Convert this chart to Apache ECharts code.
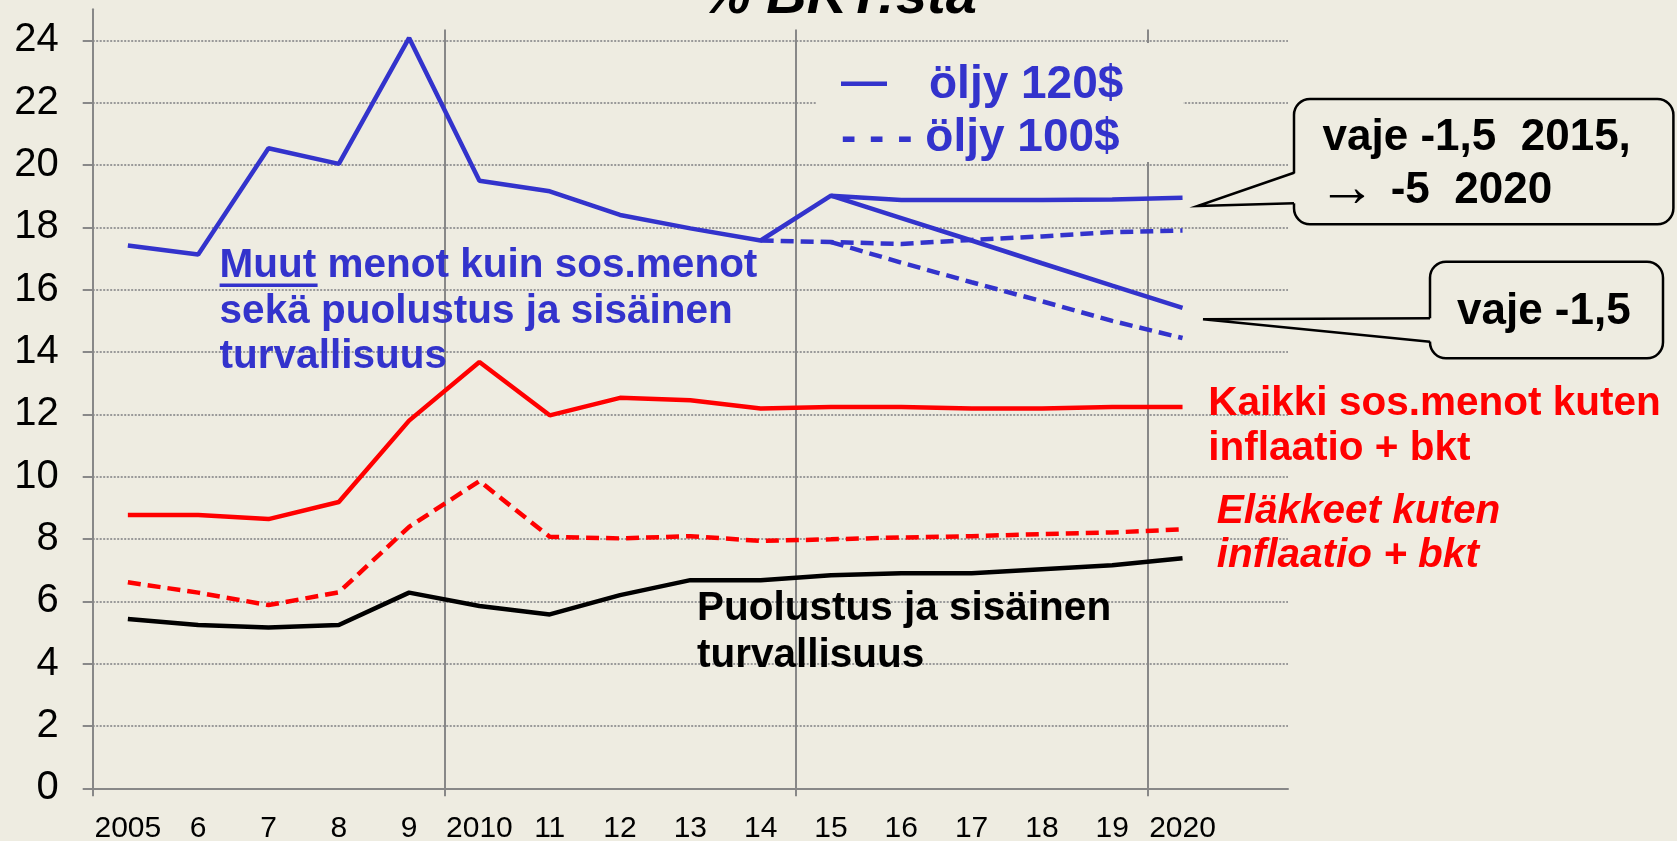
<!DOCTYPE html>
<html>
<head>
<meta charset="utf-8">
<title>% BKT:sta</title>
<script src="https://cdn.jsdelivr.net/npm/echarts@6.0.0/dist/echarts.min.js"></script>
<style>
html, body { margin: 0; padding: 0; background: #EEECE1; }
#main { width: 1677px; height: 841px; }
</style>
</head>
<body>
<div id="main"></div>
<script>
var myChart = echarts.init(document.getElementById('main'));

var BG = '#EEECE1';
var BLUE = '#3333CC';
var RED = '#FF0000';
var GRAY = '#888888';
var FONT = '"Liberation Sans", Arial, sans-serif';

// vuodet (viimeinen sarake tyhjä)
var years = ['2005', '6', '7', '8', '9', '2010', '11', '12', '13', '14', '15', '16', '17', '18', '19', '2020', ''];

// muut menot, öljy 120$ / 100$, kaksi vajeskenaariota
var oil120a = [17.42, 17.13, 20.54, 20.04, 24.08, 19.5, 19.16, 18.4, 17.97, 17.58, 19.02, 18.88, 18.88, 18.88, 18.9, 18.95];
var oil120b = [null, null, null, null, null, null, null, null, null, null, 19.02, 18.3, 17.58, 16.85, 16.13, 15.42];
var oil100a = [null, null, null, null, null, null, null, null, null, 17.58, 17.53, 17.47, 17.6, 17.71, 17.85, 17.9];
var oil100b = [null, null, null, null, null, null, null, null, null, null, 17.53, 16.87, 16.24, 15.63, 15.0, 14.45];

// sos.menot, eläkkeet, puolustus
var sosAll = [8.77, 8.77, 8.64, 9.19, 11.8, 13.68, 11.97, 12.53, 12.45, 12.19, 12.24, 12.24, 12.19, 12.19, 12.24, 12.24];
var pensions = [6.61, 6.28, 5.88, 6.29, 8.39, 9.86, 8.07, 8.02, 8.09, 7.94, 7.99, 8.05, 8.09, 8.16, 8.21, 8.31];
var defence = [5.43, 5.24, 5.16, 5.24, 6.28, 5.85, 5.58, 6.2, 6.68, 6.68, 6.84, 6.9, 6.9, 7.03, 7.16, 7.38];

// pystyviivat sarakerajoilla (2010, 2015, 2020 edessä)
var guides = [5, 10, 15];
var guideTop = 24.35;

function line(name, data, color, dashed) {
    return {
        name: name,
        type: 'line',
        data: data,
        symbol: 'none',
        silent: true,
        z: 10,
        lineStyle: { color: color, width: 4.5, type: dashed ? [13, 7] : 'solid' },
        itemStyle: { color: color }
    };
}

// teksti, y = peruslinja
function txt(str, x, base, size, color, weight, family) {
    return {
        type: 'text',
        z: 40,
        silent: true,
        style: {
            text: str,
            x: x,
            y: base - 0.31 * size,
            font: (weight || 'bold') + ' ' + size + 'px ' + (family || FONT),
            fill: color,
            align: 'left',
            verticalAlign: 'middle',
            textAlign: 'left',
            textVerticalAlign: 'middle'
        }
    };
}

// puhekupla
function callout(x, y, w, h, a1, a2, tipX, tipY) {
    return [
        { type: 'rect', z: 30, silent: true, shape: { x: x, y: y, width: w, height: h, r: 16 },
          style: { fill: BG, stroke: '#000', lineWidth: 2.5 } },
        { type: 'polygon', z: 31, silent: true, shape: { points: [[x + 3, a1], [tipX, tipY], [x + 3, a2]] },
          style: { fill: BG } },
        { type: 'polyline', z: 32, silent: true, shape: { points: [[x, a1], [tipX, tipY], [x, a2]] },
          style: { stroke: '#000', lineWidth: 2.5, fill: null } }
    ];
}

var graphics = [
    // selitteen tausta peittää ruudukon
    { type: 'rect', z: 6, silent: true, shape: { x: 817, y: 43, width: 366, height: 119 }, style: { fill: BG } },
    txt('% BKT:sta', 701, 15, 56, '#000', 'italic bold'),
    txt('\u2014', 841, 98, 46, BLUE),
    txt('öljy 120$', 929, 100, 46, BLUE),
    txt('- - - öljy 100$', 841, 153, 46, BLUE),
    txt('Muut menot kuin sos.menot', 219.6, 278, 40.5, BLUE),
    txt('sekä puolustus ja sisäinen', 219.6, 324, 40.5, BLUE),
    txt('turvallisuus', 219.6, 369.5, 40.5, BLUE),
    { type: 'rect', z: 40, silent: true, shape: { x: 219.6, y: 283.5, width: 98, height: 3.5 }, style: { fill: BLUE } },
    txt('Puolustus ja sisäinen', 697, 621.7, 40.5, '#000'),
    txt('turvallisuus', 697, 668.3, 40.5, '#000'),
    txt('Kaikki sos.menot kuten', 1208.3, 416.7, 40.5, RED),
    txt('inflaatio + bkt', 1208.3, 461.7, 40.5, RED),
    txt('Eläkkeet kuten', 1216.7, 524, 40.5, RED, 'italic bold'),
    txt('inflaatio + bkt', 1216.7, 568.3, 40.5, RED, 'italic bold'),
    txt('vaje -1,5  2015,', 1322.6, 151.7, 44, '#000'),
    txt('\u2192', 1318, 207.8, 58, '#000', 'normal'),
    txt('-5  2020', 1390.7, 204, 44, '#000'),
    txt('vaje -1,5', 1457, 325, 44, '#000')
].concat(
    callout(1294, 99, 379.4, 125.3, 172.7, 203.3, 1197.5, 206),
    callout(1430, 261.7, 233, 96.6, 318.3, 341.7, 1203, 319.3)
);

option = {
    backgroundColor: BG,
    animation: false,
    grid: { left: 92.7, right: 389, top: 9.3, bottom: 52.7, containLabel: false, outerBoundsMode: 'none' },
    xAxis: [{
        type: 'category',
        data: years,
        boundaryGap: true,
        axisLine: { lineStyle: { color: GRAY, width: 2 } },
        axisTick: { show: false },
        axisLabel: { interval: 0, color: '#000', fontSize: 30, fontFamily: FONT, margin: 25 },
        splitLine: { show: false }
    }, {
        type: 'value',
        min: 0,
        max: 17,
        interval: 5,
        position: 'bottom',
        axisLine: { show: false },
        axisLabel: { show: false },
        splitLine: { show: false },
        axisTick: { show: true, length: 8, customValues: [0, 5, 10, 15], lineStyle: { color: GRAY, width: 2 } }
    }],
    yAxis: {
        type: 'value',
        min: 0,
        max: 25,
        interval: 2,
        axisLine: { show: true, lineStyle: { color: GRAY, width: 2 } },
        axisTick: { show: true, length: 10, lineStyle: { color: GRAY, width: 2 } },
        axisLabel: { color: '#000', fontSize: 40, fontFamily: FONT, margin: 34, showMaxLabel: false },
        splitLine: { show: true, showMinLine: false, showMaxLine: false,
                     lineStyle: { color: '#999999', width: 2, type: [2, 1.5] } }
    },
    series: [
        {
            type: 'line',
            xAxisIndex: 1,
            data: [],
            silent: true,
            symbol: 'none',
            markLine: {
                silent: true,
                symbol: ['none', 'none'],
                animation: false,
                label: { show: false },
                lineStyle: { color: GRAY, width: 2, type: 'solid' },
                data: guides.map(function (g) {
                    return [{ coord: [g, guideTop] }, { coord: [g, 0] }];
                })
            }
        },
        line('öljy 120$ vaje 2015, -5 2020', oil120a, BLUE, false),
        line('öljy 120$ vaje -1,5', oil120b, BLUE, false),
        line('öljy 100$ vaje 2015, -5 2020', oil100a, BLUE, true),
        line('öljy 100$ vaje -1,5', oil100b, BLUE, true),
        line('Kaikki sos.menot', sosAll, RED, false),
        line('Eläkkeet', pensions, RED, true),
        line('Puolustus ja sisäinen turvallisuus', defence, '#000', false)
    ],
    graphic: graphics
};

myChart.setOption(option);
</script>
</body>
</html>
